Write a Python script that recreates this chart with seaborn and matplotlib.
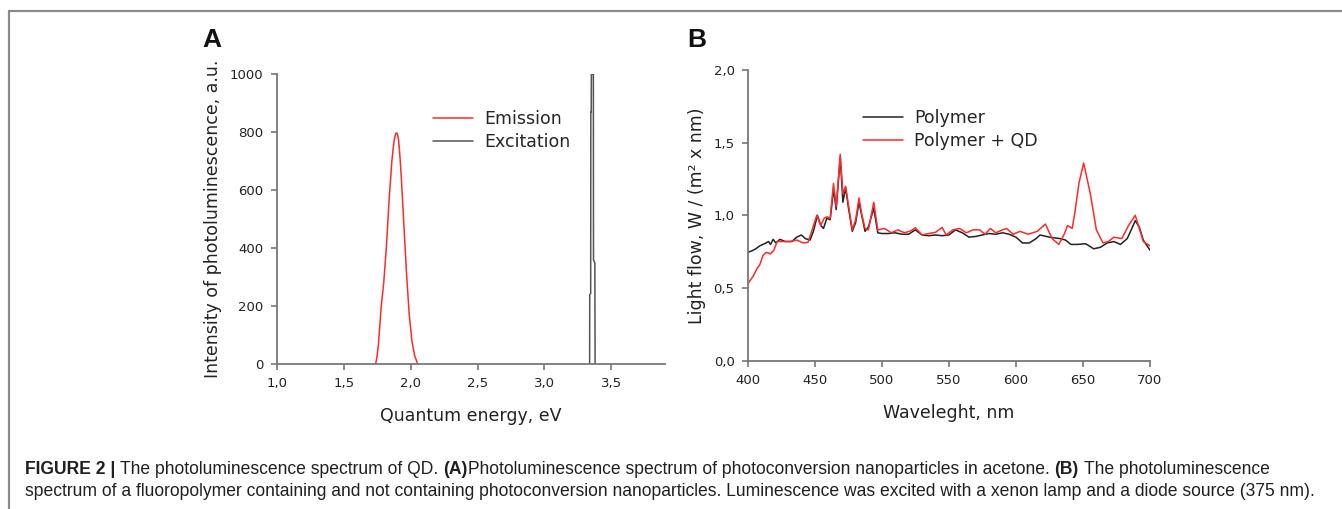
import seaborn as sns
import matplotlib.pyplot as plt
import pandas as pd
from matplotlib.lines import Line2D

# ---- Panel A: photoluminescence of QD in acetone ----
emission_energy = [1.74, 1.75, 1.76, 1.78, 1.80, 1.82, 1.84, 1.86, 1.87, 1.88,
                   1.89, 1.90, 1.91, 1.92, 1.93, 1.95, 1.97, 1.99, 2.01, 2.03, 2.05]
emission_intensity = [3, 30, 70, 195, 285, 410, 570, 700, 745, 780,
                      797, 797, 775, 720, 650, 480, 310, 170, 80, 30, 5]
excitation_energy = [3.337, 3.338, 3.345, 3.346, 3.349, 3.350, 3.365, 3.366, 3.376, 3.378]
excitation_intensity = [0, 240, 245, 870, 870, 1000, 1000, 360, 350, 0]
energy_ticks = [1.0, 1.5, 2.0, 2.5, 3.0, 3.5]
energy_tick_labels = ["1,0", "1,5", "2,0", "2,5", "3,0", "3,5"]
intensity_ticks = [0, 200, 400, 600, 800, 1000]

# ---- Panel B: fluoropolymer with / without nanoparticles ----
wavelength_polymer = [400, 403, 406, 409, 413, 415.5, 417, 419, 421, 424,
                      428, 433, 436.5, 440, 443, 446.5, 449, 452, 454.5, 456.5,
                      459, 461.5, 464, 466, 469, 471, 473, 475, 478, 480.5,
                      483, 485, 487.5, 490, 494, 497, 500, 505, 510, 515,
                      520, 525, 530, 535, 540, 545, 550, 555, 560, 565,
                      570, 575, 580, 585, 590, 595, 600, 605, 610, 615,
                      618, 625, 633, 637, 641, 646, 652, 658, 663, 668,
                      673, 678, 683, 686, 689, 692, 695, 700]
flow_polymer = [0.746, 0.755, 0.77, 0.79, 0.807, 0.82, 0.80, 0.835, 0.81, 0.835,
                0.82, 0.82, 0.85, 0.865, 0.84, 0.83, 0.89, 1.00, 0.93, 0.91,
                0.98, 0.97, 1.18, 1.04, 1.40, 1.09, 1.19, 1.06, 0.89, 0.95,
                1.09, 1.00, 0.89, 0.92, 1.05, 0.88, 0.875, 0.875, 0.88, 0.87,
                0.87, 0.90, 0.865, 0.86, 0.865, 0.86, 0.865, 0.90, 0.88, 0.85,
                0.855, 0.865, 0.875, 0.87, 0.88, 0.87, 0.85, 0.81, 0.81, 0.84,
                0.865, 0.85, 0.84, 0.83, 0.80, 0.80, 0.805, 0.77, 0.78, 0.81,
                0.82, 0.80, 0.84, 0.90, 0.963, 0.92, 0.83, 0.76]
wavelength_qd = [400, 404, 407, 409, 411.5, 414, 417, 419.5, 422, 426.5,
                 431.5, 436.5, 441.5, 445, 447.7, 451.5, 454.5, 457, 459, 461.5,
                 464, 466, 469, 471, 473, 475, 478, 480.5, 483, 485,
                 487.5, 490, 494, 497, 502, 507, 512, 517, 522, 525,
                 530, 535, 540, 545, 548, 553, 558, 563, 568, 573,
                 577, 581, 585, 590, 593, 598, 603, 609, 616, 622,
                 627, 632, 636, 638.5, 642, 644, 647, 650.5, 655.5, 660,
                 665, 669, 673, 679, 684, 689, 695, 700]
flow_qd = [0.528, 0.58, 0.635, 0.66, 0.727, 0.745, 0.735, 0.76, 0.82, 0.82,
           0.82, 0.83, 0.81, 0.815, 0.89, 1.00, 0.93, 0.98, 0.99, 0.98,
           1.22, 1.06, 1.42, 1.15, 1.20, 1.08, 0.90, 0.97, 1.12, 1.01,
           0.91, 0.90, 1.09, 0.90, 0.91, 0.88, 0.90, 0.88, 0.895, 0.915,
           0.865, 0.875, 0.883, 0.917, 0.865, 0.90, 0.91, 0.88, 0.90, 0.90,
           0.87, 0.91, 0.88, 0.90, 0.91, 0.87, 0.89, 0.87, 0.89, 0.94,
           0.84, 0.80, 0.87, 0.93, 0.91, 1.02, 1.22, 1.36, 1.15, 0.90,
           0.81, 0.82, 0.85, 0.84, 0.93, 1.00, 0.82, 0.79]
wavelength_ticks = [400, 450, 500, 550, 600, 650, 700]
flow_ticks = [0.0, 0.5, 1.0, 1.5, 2.0]
flow_tick_labels = ["0,0", "0,5", "1,0", "1,5", "2,0"]

caption_line1 = [("FIGURE 2 |", "bold", True),
                 ("The photoluminescence spectrum of QD.", "normal", True),
                 ("(A)", "bold", False),
                 ("Photoluminescence spectrum of photoconversion nanoparticles in acetone.", "normal", True),
                 ("(B)", "bold", True),
                 ("The photoluminescence", "normal", False)]
caption_line2 = [("spectrum of a fluoropolymer containing and not containing photoconversion "
                  "nanoparticles. Luminescence was excited with a xenon lamp and a diode source (375 nm).",
                  "normal", False)]

sns.set_theme(style="ticks")
plt.rcParams["font.family"] = ["DejaVu Sans"]

W, H = 1342, 509
fig = plt.figure(figsize=(W / 100, H / 100), dpi=100)

ax_a = fig.add_axes([276.7 / W, 1 - 364.3 / H, (665 - 276.7) / W, (364.3 - 74.3) / H])
ax_b = fig.add_axes([747.7 / W, 1 - 360.7 / H, (1150 - 747.7) / W, (360.7 - 70) / H])

emission = pd.DataFrame({"energy": emission_energy, "intensity": emission_intensity})
excitation = pd.DataFrame({"energy": excitation_energy, "intensity": excitation_intensity})
sns.lineplot(data=emission, x="energy", y="intensity", ax=ax_a, color="#ff2a2a",
             lw=1.1, label="Emission", estimator=None, sort=False)
sns.lineplot(data=excitation, x="energy", y="intensity", ax=ax_a, color="#555555",
             lw=1.1, label="Excitation", estimator=None, sort=False)

polymer = pd.DataFrame({"wl": wavelength_polymer, "flow": flow_polymer})
polymer_qd = pd.DataFrame({"wl": wavelength_qd, "flow": flow_qd})
sns.lineplot(data=polymer, x="wl", y="flow", ax=ax_b, color="#222222",
             lw=1.1, label="Polymer", estimator=None, sort=False)
sns.lineplot(data=polymer_qd, x="wl", y="flow", ax=ax_b, color="#ff2a2a",
             lw=1.1, label="Polymer + QD", estimator=None, sort=False)

ax_a.set_xlim(1.0, 3.9)
ax_a.set_ylim(0, 1000)
ax_a.set_xticks(energy_ticks)
ax_a.set_xticklabels(energy_tick_labels)
ax_a.set_yticks(intensity_ticks)
ax_a.set_xlabel("Quantum energy, eV", fontsize=12.5, labelpad=12, color="#222222")
ax_a.set_ylabel("Intensity of photoluminescence, a.u.", fontsize=12.5, labelpad=6, color="#222222")

ax_b.set_xlim(400, 700)
ax_b.set_ylim(0, 2.0)
ax_b.set_xticks(wavelength_ticks)
ax_b.set_yticks(flow_ticks)
ax_b.set_yticklabels(flow_tick_labels)
ax_b.set_xlabel("Waveleght, nm", fontsize=12.5, labelpad=12, color="#222222")
ax_b.set_ylabel("Light flow, W / (m² x nm)", fontsize=12.5, labelpad=5, color="#222222")

for ax in (ax_a, ax_b):
    sns.despine(ax=ax)
    for side in ("left", "bottom"):
        ax.spines[side].set_color("#777777")
        ax.spines[side].set_linewidth(1.3)
    ax.tick_params(colors="#777777", labelcolor="#222222", length=4.5, width=1.2,
                   labelsize=9.5, pad=5)
    ax.set_facecolor("white")

ax_a.legend(loc="upper left", bbox_to_anchor=(433 / W, 1 - 110 / H), bbox_transform=fig.transFigure,
            frameon=False, fontsize=12.5, handlelength=2.3, handletextpad=0.65,
            labelspacing=0.3, borderpad=0, borderaxespad=0)
ax_b.legend(loc="upper left", bbox_to_anchor=(862.7 / W, 1 - 109 / H), bbox_transform=fig.transFigure,
            frameon=False, fontsize=12.5, handlelength=2.3, handletextpad=0.65,
            labelspacing=0.3, borderpad=0, borderaxespad=0)

# panel letters
fig.text(202 / W, 1 - 47 / H, "A", fontsize=19, fontweight="bold", family="Liberation Sans",
         va="baseline", ha="left", color="#111111")
fig.text(687 / W, 1 - 47 / H, "B", fontsize=19, fontweight="bold", family="Liberation Sans",
         va="baseline", ha="left", color="#111111")

# page frame (top and left rule)
fig.add_artist(Line2D([9 / W, 1], [1 - 11 / H, 1 - 11 / H], transform=fig.transFigure,
                      color="#8a8a8a", lw=1.6))
fig.add_artist(Line2D([9 / W, 9 / W], [0, 1 - 11 / H], transform=fig.transFigure,
                      color="#8a8a8a", lw=1.6))

# caption, bold and regular pieces placed one after another
renderer = fig.canvas.get_renderer()


def text_width(s, size, weight):
    t = fig.text(0, 0, s, fontsize=size, fontweight=weight, family="Liberation Sans")
    w = t.get_window_extent(renderer).width
    t.remove()
    return w


probe = 12
cap_size = probe * 1297 / text_width(caption_line2[0][0], probe, "normal")
space_w = text_width("a a", cap_size, "normal") - text_width("aa", cap_size, "normal")


def caption_line(segments, y_px):
    x = 25.0
    for s, weight, gap in segments:
        t = fig.text(x / W, 1 - y_px / H, s, fontsize=cap_size, fontweight=weight,
                     family="Liberation Sans", color="#231f20", va="baseline", ha="left")
        x = t.get_window_extent(renderer).x1 + (space_w if gap else 0)


caption_line(caption_line1, 474)
caption_line(caption_line2, 496)

fig.savefig("out.png", dpi=100)
